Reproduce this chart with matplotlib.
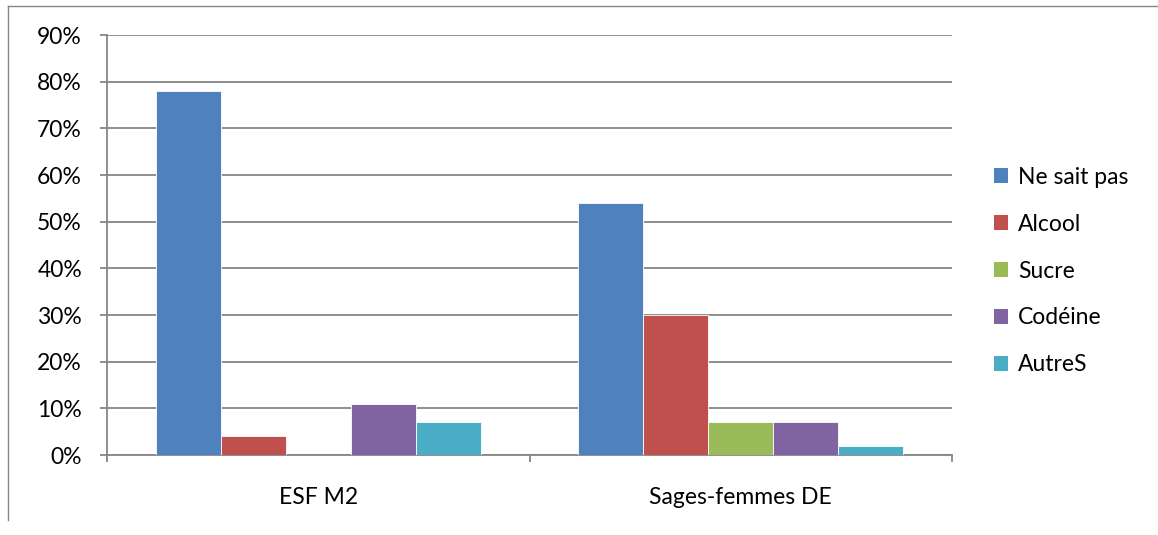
import matplotlib.pyplot as plt
import numpy as np
from matplotlib.lines import Line2D
from matplotlib.patches import Patch

plt.rcParams['font.family'] = ['Lato', 'DejaVu Sans']

groups = ["ESF M2", "Sages-femmes DE"]
series = ["Ne sait pas", "Alcool", "Sucre", "Codéine", "AutreS"]
values = [
    [78, 54],   # Ne sait pas
    [4, 30],    # Alcool
    [0, 7],     # Sucre
    [11, 7],    # Codéine
    [7, 2],     # AutreS
]
colors = ["#4F81BD", "#C0504D", "#9BBB59", "#8064A2", "#4BACC6"]
yticks = [0, 10, 20, 30, 40, 50, 60, 70, 80, 90]

fs = 16.5
grey = "#868686"

fig = plt.figure(figsize=(11.58, 5.35), dpi=100)
ax = fig.add_axes([107 / 1158, 1 - 455 / 535, 845 / 1158, 420 / 535])

x = np.arange(len(groups))
w = 1 / 6.5
for i, (name, vals) in enumerate(zip(series, values)):
    ax.bar(x + (i - 2) * w, vals, width=w, color=colors[i],
           edgecolor="white", linewidth=0.6, label=name, zorder=3)

ax.set_xlim(-0.5, 1.5)
ax.set_ylim(0, 90)
ax.set_yticks(yticks)
ax.set_yticklabels([f"{t}%" for t in yticks], fontsize=fs)
ax.yaxis.grid(True, color=grey, linewidth=1.3, zorder=0)

ax.set_xticks([-0.5, 0.5, 1.5])
ax.set_xticklabels([])
ax.set_xticks(x, minor=True)
ax.set_xticklabels(groups, minor=True, fontsize=fs)
ax.tick_params(axis="x", which="minor", length=0, pad=23)
ax.tick_params(axis="x", which="major", length=5, color=grey, width=1.3)
ax.tick_params(axis="y", length=5, color=grey, width=1.3, pad=13)

for s in ["top", "right"]:
    ax.spines[s].set_visible(False)
for s in ["left", "bottom"]:
    ax.spines[s].set_color(grey)
    ax.spines[s].set_linewidth(1.3)

handles = [Patch(facecolor=c, edgecolor="none") for c in colors]
fig.legend(handles, series, loc="center left",
           bbox_to_anchor=(973 / 1158, 1 - 271 / 535), frameon=False,
           fontsize=fs, handlelength=0.62, handleheight=0.62,
           handletextpad=0.45, labelspacing=1.13)

# outer chart border (partially visible)
fig.add_artist(Line2D([8 / 1158, 1], [1 - 6 / 535, 1 - 6 / 535], color=grey, linewidth=1))
fig.add_artist(Line2D([8 / 1158, 8 / 1158], [1 - 6 / 535, 1 - 520 / 535], color=grey, linewidth=1))

fig.savefig("out.png", dpi=100)
